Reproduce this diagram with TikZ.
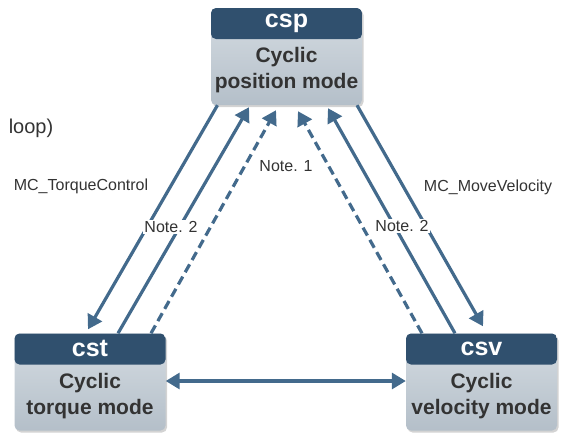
\documentclass[tikz,border=0pt]{standalone}
\usepackage{fontspec}
\setmainfont{Liberation Sans}
\usepackage{tikz}
\definecolor{headblue}{HTML}{30506E}
\definecolor{arrowblue}{HTML}{436A8C}
\definecolor{bodytop}{HTML}{D5DCE2}
\definecolor{bodybot}{HTML}{B4BFC9}
\definecolor{textgray}{HTML}{333333}
\usetikzlibrary{positioning,arrows.meta,shadows}

\begin{document}
\begin{tikzpicture}[x=1pt, y=-1pt,
	mode/.style={rectangle, rounded corners=5pt, minimum width=151pt, minimum height=97pt, top color=bodytop, bottom color=bodybot,
		drop shadow={opacity=0.35, shadow xshift=1.5pt, shadow yshift=-2pt},
		path picture={\fill[headblue] (path picture bounding box.north west) rectangle ([yshift=-31pt]path picture bounding box.north east);}},
	headtext/.style={text=white, font=\fontsize{25}{28}\selectfont\bfseries},
	bodytext/.style={text=textgray, align=center, font=\fontsize{21}{26}\selectfont\bfseries},
	note/.style={text=textgray, fill=white, inner sep=1pt, font=\fontsize{16}{18}\selectfont},
	flow/.style={arrowblue, line width=3.2pt, -{Triangle[length=14pt,width=16pt]}},
	dashflow/.style={flow, dash pattern=on 9pt off 5pt}]
	\useasboundingbox (0,0) rectangle (561,434);
	\node[mode] (csp) at (286.5,56.5) {};
	\node[mode] (cst) at (90,382) {};
	\node[mode] (csv) at (481.5,382) {};
	\node[headtext] (csphead) at ([yshift=-16pt]csp.north) {csp};
	\node[headtext] (csthead) at ([yshift=-15pt]cst.north) {cst};
	\node[headtext] (csvhead) at ([yshift=-16pt]csv.north) {csv};
	\node[bodytext] (cspbody) at ([yshift=-14pt]csp.center) {Cyclic\\position mode};
	\node[bodytext] (cstbody) at ([yshift=-14pt]cst.center) {Cyclic\\torque mode};
	\node[bodytext] (csvbody) at ([yshift=-14pt]csv.center) {Cyclic\\velocity mode};
	% left side
	\draw[flow] ([xshift=-69pt]csp.south) -- ([xshift=-2pt,yshift=4pt]cst.north);
	\draw[flow] ([xshift=28pt]cst.north) -- ([xshift=-37.5pt,yshift=-2pt]csp.south);
	\draw[dashflow] ([xshift=61pt]cst.north) -- ([xshift=-10.5pt,yshift=-5pt]csp.south);
	% right side
	\draw[dashflow] ([xshift=-59.5pt]csv.north) -- ([xshift=11.5pt,yshift=-6pt]csp.south);
	\draw[flow] ([xshift=-26.5pt]csv.north) -- ([xshift=41.5pt,yshift=-3pt]csp.south);
	\draw[flow] ([xshift=70.5pt]csp.south) -- ([xshift=1.5pt,yshift=7pt]csv.north);
	\draw[flow, {Triangle[length=14pt,width=16pt]}-{Triangle[length=14pt,width=16pt]}] ([yshift=1pt]cst.east) -- ([yshift=1pt]csv.west);
	% labels
	\node[text=textgray, font=\fontsize{20}{22}\selectfont] (loop) at (31,128) {loop)};
	\node[note, fill=none] (torque) at (81,186) {MC\_TorqueControl};
	\node[note, fill=none] (velocity) at (488,187) {MC\_MoveVelocity};
	\node[note] (noteleft) at (171,227) {Note. 2};
	\node[note, fill=none] (notemid) at (286,166) {Note. 1};
	\node[note] (noteright) at (402,226) {Note. 2};
\end{tikzpicture}
\end{document}
